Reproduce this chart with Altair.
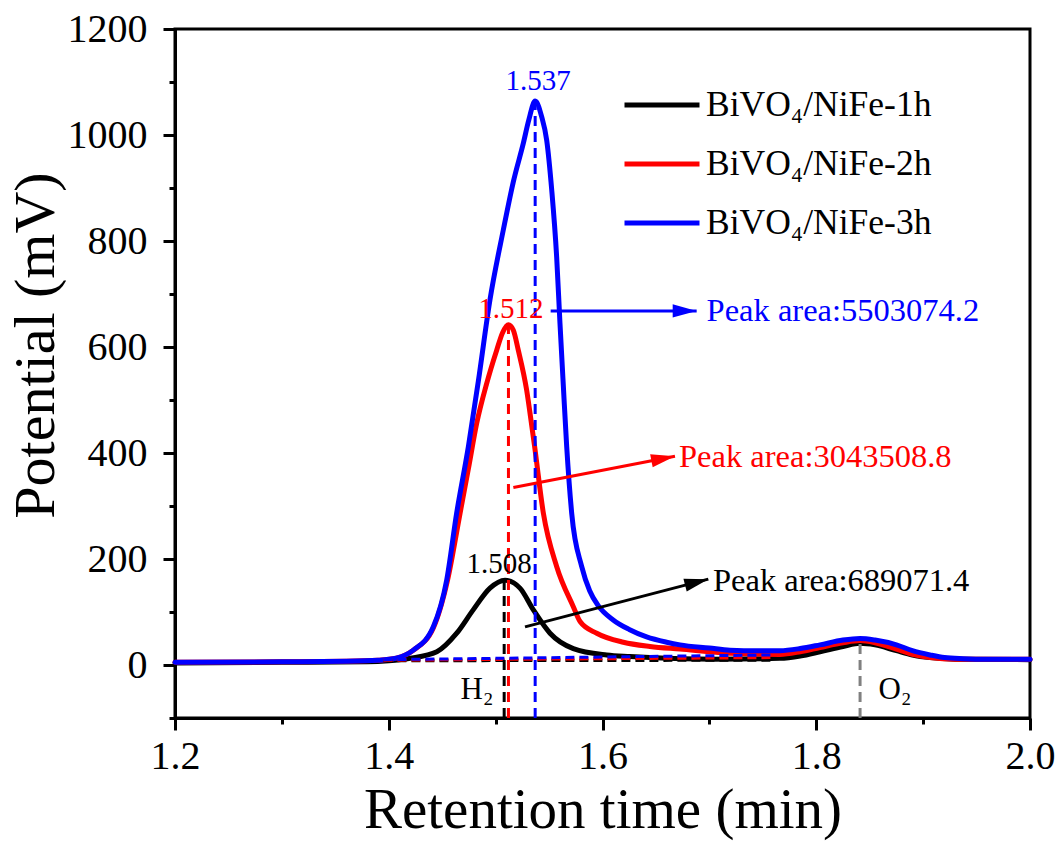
import altair as alt
import pandas as pd

FONT = "Liberation Serif"

SERIES = ["BiVO₄/NiFe-1h", "BiVO₄/NiFe-2h", "BiVO₄/NiFe-3h"]
COLORS = ["#000000", "#FF0000", "#0000FF"]

# ---- curves (retention time in min, potential in mV)
x_1h = [1.20, 1.30, 1.38, 1.40, 1.420, 1.445, 1.4636, 1.479, 1.4947, 1.5088, 1.5228, 1.5353,
        1.5509, 1.5727, 1.6039, 1.6257, 1.6444, 1.7034, 1.766, 1.785, 1.8035, 1.825, 1.841,
        1.855, 1.875, 1.89, 1.9064, 1.93, 2.0]
y_1h = [4, 5, 6, 8, 12.6, 25, 60, 104, 145, 160, 145, 104,
        60, 31, 19, 16, 14, 11, 12.6, 17, 25, 35, 41,
        38, 27, 19, 14, 11, 10]

x_2h = [1.20, 1.30, 1.36, 1.39, 1.407, 1.423, 1.4417, 1.455, 1.4667, 1.4745, 1.4823, 1.4916,
        1.5010, 1.5065, 1.512, 1.5165, 1.5212, 1.529, 1.5335, 1.5365, 1.5447, 1.5571, 1.5727,
        1.579, 1.5946, 1.6195, 1.6444, 1.6725, 1.7193, 1.766, 1.785, 1.8035, 1.825, 1.841,
        1.855, 1.875, 1.89, 1.9064, 1.93, 2.0]
y_2h = [5, 6, 7, 9, 13, 28, 70, 160, 286, 370, 456, 531,
        594, 627, 642, 632, 594, 519, 456, 412, 286, 186, 110,
        82, 60, 43, 35, 30, 22, 20, 25, 33, 42, 46,
        42, 30, 20, 14, 11, 11]

x_3h = [1.20, 1.30, 1.36, 1.39, 1.407, 1.423, 1.4417, 1.4542, 1.4635, 1.4745, 1.4838,
        1.4947, 1.5072, 1.5166, 1.526, 1.531, 1.537, 1.543, 1.5478, 1.5525, 1.5571, 1.5602,
        1.5634, 1.5665, 1.5712, 1.5805, 1.588, 1.596, 1.610, 1.625, 1.6413, 1.66, 1.6725,
        1.70, 1.7193, 1.745, 1.766, 1.785, 1.8035, 1.825, 1.841, 1.855, 1.875, 1.89, 1.9064,
        1.92, 1.9376, 1.96, 2.0]
y_3h = [5, 6, 7, 9, 13, 28, 72, 160, 286, 412, 535,
        689, 821, 912, 985, 1028, 1064, 1035, 990, 896, 770, 645,
        525, 412, 286, 186, 140, 112, 85, 67, 53, 43, 38,
        32, 28, 27, 27, 31, 38, 47, 50, 47, 38, 27, 19,
        14, 12, 11, 11]

# ---- peak markers (vertical dashed lines)
peak_x = [1.508, 1.512, 1.537, 1.841]
peak_top = [160, 642, 1064, 47]
peak_color = ["#000000", "#FF0000", "#0000FF", "#808080"]
peak_bottom = -100

# ---- integration baselines (dashed)
base_x1 = [1.395, 1.395, 1.395]
base_y1 = [8, 9, 10]
base_x2 = [1.76, 1.76, 1.76]
base_y2 = [9, 14, 19]

# ---- peak labels
plabel_text = ["1.537", "1.512", "1.508"]
plabel_x = [1.5397, 1.5142, 1.5032]
plabel_y = [1102, 672, 190]

# ---- arrows and peak-area annotations
arrow_x1 = [1.5515, 1.5166, 1.5275]
arrow_y1 = [668, 335, 72]
arrow_x2 = [1.6881, 1.6678, 1.699]
arrow_y2 = [668, 394, 162]
arrow_angle = [0, 349, 345.5]
area_text = ["Peak area:5503074.2", "Peak area:3043508.8", "Peak area:689071.4"]
area_x = [1.6974, 1.6716, 1.7034]
area_y = [668, 392, 158]
ann_color = ["#0000FF", "#FF0000", "#000000"]

gas_text = ["H₂", "O₂"]
gas_x = [1.4826, 1.8737]
gas_y = [-47, -47]

x_ticks = [1.2, 1.3, 1.4, 1.5, 1.6, 1.7, 1.8, 1.9, 2.0]
y_ticks = list(range(-100, 1300, 100))

# ---- tables
rows = []
for name, xs, ys in zip(SERIES, [x_1h, x_2h, x_3h], [y_1h, y_2h, y_3h]):
    for xv, yv in zip(xs, ys):
        rows.append({"t": xv, "mv": yv, "series": name})
curves = pd.DataFrame(rows)

peaks = pd.DataFrame({"x": peak_x, "top": peak_top, "bottom": [peak_bottom] * 4, "c": peak_color})
bases = pd.DataFrame({"x1": base_x1, "y1": base_y1, "x2": base_x2, "y2": base_y2, "c": COLORS})
plabels = pd.DataFrame({"text": plabel_text, "x": plabel_x, "y": plabel_y, "c": ["#0000FF", "#FF0000", "#000000"]})
arrows = pd.DataFrame({"x1": arrow_x1, "y1": arrow_y1, "x2": arrow_x2, "y2": arrow_y2,
                       "angle": arrow_angle, "c": ann_color})
areas = pd.DataFrame({"text": area_text, "x": area_x, "y": area_y, "c": ann_color})
gases = pd.DataFrame({"text": gas_text, "x": gas_x, "y": gas_y})

xscale = alt.Scale(domain=[1.2, 2.0], nice=False, zero=False)
yscale = alt.Scale(domain=[-100, 1200], nice=False, zero=False)

xaxis = alt.Axis(
    values=x_ticks,
    labelExpr="round(datum.value*10) % 2 == 0 ? format(datum.value, '.1f') : ''",
    tickSize={"condition": {"test": "round(datum.value*10) % 2 == 0", "value": 12}, "value": 6},
    labelPadding=6,
    labelFlush=False,
    labelOverlap=False,
    title="Retention time (min)",
    titleFontSize=57,
    titleFontWeight="normal",
    titlePadding=6,
    grid=False,
)
yaxis = alt.Axis(
    values=y_ticks,
    labelExpr="datum.value >= 0 && datum.value % 200 == 0 ? format(datum.value, 'd') : ''",
    tickSize={"condition": {"test": "datum.value % 200 == 0", "value": 12}, "value": 6},
    labelPadding=16,
    labelOverlap=False,
    title="Potential (mV)",
    titleFontSize=58,
    titleFontWeight="normal",
    titleX=-139,
    titleY=316,
    titleAngle=270,
    titleAlign="center",
    titleBaseline="middle",
    grid=False,
)

x = alt.X("t:Q", scale=xscale, axis=xaxis)
y = alt.Y("mv:Q", scale=yscale, axis=yaxis)

lines = alt.Chart(curves).mark_line(strokeWidth=5, interpolate="monotone", strokeCap="round").encode(
    x=x,
    y=y,
    color=alt.Color(
        "series:N",
        scale=alt.Scale(domain=SERIES, range=COLORS),
        sort=SERIES,
        legend=alt.Legend(
            orient="none",
            legendX=447,
            legendY=36,
            title=None,
            symbolType="stroke",
            symbolSize=5625,
            symbolStrokeWidth=5,
            labelFont=FONT,
            labelFontSize=35.5,
            labelOffset=4,
            labelLimit=500,
            rowPadding=-3,
            padding=0,
        ),
    ),
    order=alt.Order("series:N"),
)

vlines = alt.Chart(peaks).mark_rule(strokeWidth=3, strokeDash=[10, 6]).encode(
    x=alt.X("x:Q", scale=xscale),
    y=alt.Y("bottom:Q", scale=yscale),
    y2="top:Q",
    color=alt.Color("c:N", scale=None),
)

blines = alt.Chart(bases).mark_rule(strokeWidth=3, strokeDash=[9, 5]).encode(
    x=alt.X("x1:Q", scale=xscale),
    x2="x2:Q",
    y=alt.Y("y1:Q", scale=yscale),
    y2="y2:Q",
    color=alt.Color("c:N", scale=None),
)

arrow_lines = alt.Chart(arrows).mark_rule(strokeWidth=3).encode(
    x=alt.X("x1:Q", scale=xscale),
    x2="x2:Q",
    y=alt.Y("y1:Q", scale=yscale),
    y2="y2:Q",
    color=alt.Color("c:N", scale=None),
)

arrow_heads = alt.Chart(arrows).mark_point(
    shape="M0,0 L-2,-0.55 L-2,0.55 Z", filled=True, size=576, opacity=1, strokeWidth=0
).encode(
    x=alt.X("x2:Q", scale=xscale),
    y=alt.Y("y2:Q", scale=yscale),
    angle=alt.Angle("angle:Q", scale=None),
    color=alt.Color("c:N", scale=None),
)

peak_labels = alt.Chart(plabels).mark_text(font=FONT, fontSize=29, align="center", baseline="middle").encode(
    x=alt.X("x:Q", scale=xscale),
    y=alt.Y("y:Q", scale=yscale),
    text="text:N",
    color=alt.Color("c:N", scale=None),
)

area_labels = alt.Chart(areas).mark_text(font=FONT, fontSize=32.5, align="left", baseline="middle").encode(
    x=alt.X("x:Q", scale=xscale),
    y=alt.Y("y:Q", scale=yscale),
    text="text:N",
    color=alt.Color("c:N", scale=None),
)

gas_labels = alt.Chart(gases).mark_text(font=FONT, fontSize=31, align="center", baseline="middle", color="black").encode(
    x=alt.X("x:Q", scale=xscale),
    y=alt.Y("y:Q", scale=yscale),
    text="text:N",
)

chart = alt.layer(
    lines, blines, vlines, arrow_lines, arrow_heads, peak_labels, area_labels, gas_labels
).properties(
    width=855,
    height=689,
    autosize=alt.AutoSizeParams(type="none"),
    padding={"left": 175, "top": 29, "right": 31, "bottom": 125},
    background="white",
).configure_view(
    stroke="black", strokeWidth=3
).configure_axis(
    labelFont=FONT,
    titleFont=FONT,
    labelFontSize=40,
    labelColor="black",
    titleColor="black",
    domainColor="black",
    domainWidth=3,
    tickColor="black",
    tickWidth=3,
)

chart.save("out.html", embed_options={"renderer": "svg", "actions": False})
